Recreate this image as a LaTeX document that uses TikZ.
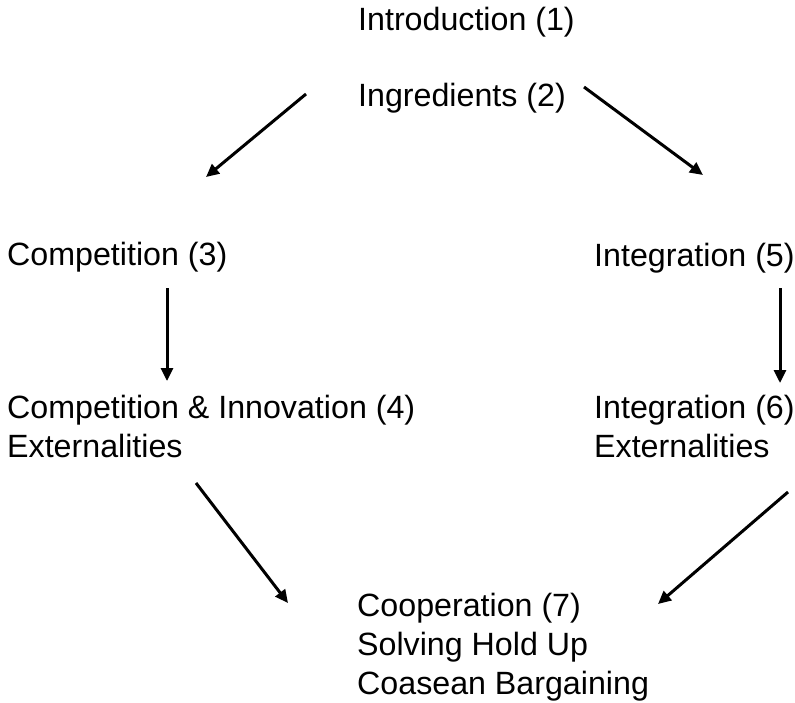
\documentclass[tikz,border=0pt]{standalone}
\usepackage{fontspec}
\setmainfont{Liberation Sans}
\usetikzlibrary{arrows.meta}
\begin{document}
\begin{tikzpicture}[x=1pt,y=-1pt,
  topic/.style={anchor=base west,inner sep=0pt,align=left,
    font=\fontsize{32.2}{39}\selectfont},
  flow/.style={line width=3pt,-{Triangle[length=13pt,width=12pt]}}]
\useasboundingbox (0,0) rectangle (795,702);

% chapter labels (multi-line nodes sit on the baseline of their last line)
\node[topic] (intro)    at (358,30)  {Introduction (1)};
\node[topic] (ingr)     at (358,106) {Ingredients (2)};
\node[topic] (comp)     at (7,265)   {Competition (3)};
\node[topic] (integ)    at (594,266) {Integration (5)};
\node[topic] (compinn)  at (7,457)   {Competition \& Innovation (4)\\Externalities};
\node[topic] (integext) at (594,457) {Integration (6)\\Externalities};
\node[topic] (coop)     at (357,694) {Cooperation (7)\\Solving Hold Up\\Coasean Bargaining};

% arrow end points
\coordinate (a1s) at (306,94);  \coordinate (a1e) at (206,177);
\coordinate (a2s) at (584,87);  \coordinate (a2e) at (703,175);
\coordinate (a3s) at (167,288); \coordinate (a3e) at (167,381);
\coordinate (a4s) at (780,288); \coordinate (a4e) at (780,383);
\coordinate (a5s) at (196,483); \coordinate (a5e) at (288,603);
\coordinate (a6s) at (788,492); \coordinate (a6e) at (658,604);

\draw[flow] (a1s) -- (a1e);
\draw[flow] (a2s) -- (a2e);
\draw[flow] (a3s) -- (a3e);
\draw[flow] (a4s) -- (a4e);
\draw[flow] (a5s) -- (a5e);
\draw[flow] (a6s) -- (a6e);
\end{tikzpicture}
\end{document}
